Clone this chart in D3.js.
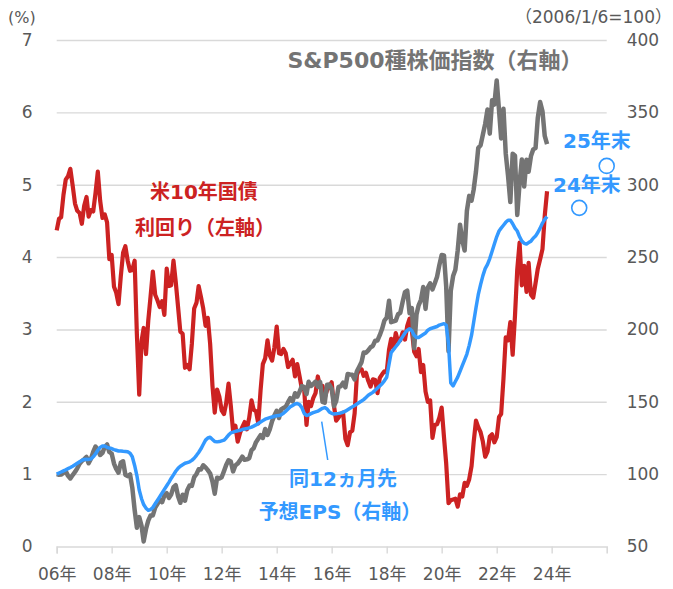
<!DOCTYPE html>
<html lang="ja">
<head>
<meta charset="utf-8">
<script src="https://cdn.jsdelivr.net/npm/d3@7"></script>
<style>
  html, body { margin: 0; padding: 0; background: #fff; }
  svg { display: block; }
  text { font-family: "DejaVu Sans", "Noto Sans CJK JP", sans-serif; }
</style>
</head>
<body>
<div id="chart"></div>
<script>
// Monthly points, Jan 2006 .. Nov 2023 (value at start of each month)
const startMonth = new Date(2006, 0, 1);
const endMonth = new Date(2023, 11, 1);

// US 10y treasury yield (%), left axis
const yieldUS10 = [
  4.37, 4.53, 4.55, 4.86, 5.07, 5.12, 5.22, 4.99, 4.74, 4.64, 4.61, 4.46,
  4.71, 4.83, 4.56, 4.65, 4.63, 4.89, 5.18, 4.78, 4.54, 4.59, 4.48, 3.97,
  4.03, 3.59, 3.51, 3.35, 3.73, 4.06, 4.15, 3.95, 3.81, 3.82, 3.95, 2.93,
  2.10, 2.84, 3.02, 2.66, 3.12, 3.46, 3.80, 3.48, 3.40, 3.31, 3.39, 3.20,
  3.84, 3.60, 3.61, 3.95, 3.66, 3.31, 2.97, 2.94, 2.47, 2.51, 2.45, 2.80,
  3.29, 3.37, 3.60, 3.45, 3.29, 3.05, 3.16, 2.80, 2.22, 1.85, 2.17, 2.07,
  1.88, 1.83, 1.98, 2.25, 1.95, 1.59, 1.67, 1.45, 1.57, 1.65, 1.72, 1.62,
  1.78, 2.02, 1.89, 1.87, 1.70, 2.16, 2.52, 2.60, 2.85, 2.64, 2.57, 2.75,
  3.04, 2.67, 2.66, 2.73, 2.67, 2.48, 2.53, 2.58, 2.35, 2.52, 2.35, 2.18,
  2.17, 1.68, 2.00, 1.94, 2.05, 2.12, 2.35, 2.20, 2.22, 2.06, 2.16, 2.21,
  2.27, 1.94, 1.74, 1.78, 1.83, 1.85, 1.49, 1.40, 1.58, 1.60, 1.84, 2.37,
  2.45, 2.45, 2.36, 2.40, 2.29, 2.21, 2.31, 2.30, 2.12, 2.33, 2.38, 2.42,
  2.41, 2.72, 2.87, 2.74, 2.95, 2.83, 2.85, 2.96, 2.86, 3.05, 3.15, 2.99,
  2.69, 2.63, 2.73, 2.41, 2.51, 2.14, 2.00, 2.02, 1.50, 1.68, 1.69, 1.78,
  1.92, 1.51, 1.15, 0.60, 0.64, 0.65, 0.66, 0.55, 0.72, 0.69, 0.88, 0.84,
  0.93, 1.11, 1.44, 1.74, 1.65, 1.58, 1.45, 1.24, 1.31, 1.52, 1.55, 1.44,
  1.51, 1.79, 1.83, 2.32, 2.89, 2.85, 3.10, 2.65, 3.19, 3.83, 4.20, 3.61,
  3.88, 3.52, 3.92, 3.48, 3.44, 3.64, 3.84, 3.97, 4.11, 4.57, 4.91
];

// S&P500 index (2006/1/6=100), right axis
const sp500 = [
  100.0, 99.6, 99.7, 100.8, 102.0, 98.8, 97.0, 99.4, 101.5, 104.0, 107.2, 109.0,
  110.4, 111.9, 107.5, 110.6, 115.3, 119.1, 117.0, 113.2, 114.7, 118.8, 120.5, 115.3,
  114.2, 107.3, 103.6, 101.0, 107.9, 108.9, 99.6, 98.6, 99.8, 90.7, 75.4, 63.0,
  70.3, 64.3, 53.5, 62.1, 67.9, 71.5, 71.5, 76.8, 79.5, 82.3, 80.6, 85.3,
  86.8, 83.6, 85.9, 91.0, 92.4, 84.7, 80.2, 85.8, 81.6, 88.8, 92.1, 91.9,
  97.9, 100.1, 103.3, 103.2, 106.1, 104.7, 102.8, 100.5, 94.9, 86.5, 97.5, 97.0,
  97.9, 102.1, 106.3, 109.6, 108.8, 101.9, 106.0, 107.3, 109.5, 112.1, 109.9, 110.2,
  111.0, 116.6, 117.9, 122.1, 124.4, 126.9, 125.0, 131.2, 127.1, 130.9, 136.7, 140.5,
  143.8, 138.8, 144.7, 145.7, 146.6, 149.7, 152.5, 150.3, 155.9, 153.5, 157.0, 160.9,
  160.2, 155.3, 163.8, 160.9, 162.3, 164.0, 160.5, 163.7, 150.0, 149.4, 161.8, 161.9,
  159.1, 147.0, 150.4, 160.3, 160.7, 163.2, 160.0, 169.2, 168.9, 168.7, 165.4, 171.1,
  174.2, 177.4, 184.0, 183.9, 185.5, 187.7, 188.6, 192.2, 192.4, 196.0, 200.4, 206.1,
  208.1, 219.8, 205.0, 205.5, 206.1, 210.5, 211.5, 219.1, 225.8, 226.8, 211.1, 214.8,
  187.0, 210.4, 216.7, 220.5, 229.3, 214.2, 228.9, 231.9, 227.7, 231.7, 236.4, 244.4,
  251.4, 251.1, 229.9, 185.0, 226.6, 236.9, 241.2, 254.6, 272.4, 261.7, 254.5, 281.9,
  292.3, 289.0, 296.6, 309.2, 325.4, 327.2, 334.5, 342.0, 352.0, 335.3, 358.4, 355.4,
  372.0, 351.4, 332.0, 352.5, 321.6, 306.0, 288.0, 321.4, 320.0, 279.1, 301.3, 317.5,
  298.8, 317.3, 309.0, 319.8, 324.4, 325.3, 346.3, 357.1, 350.8, 333.7, 328.0
];

// 12-month forward EPS (2006/1/6=100), right axis
const fwdEps = [
  100.0, 100.8, 101.5, 102.3, 103.0, 103.8, 104.6, 105.5, 106.5, 107.5, 108.5, 109.5,
  110.2, 110.3, 110.2, 110.5, 112.0, 114.0, 116.5, 118.5, 119.5, 119.5, 118.5, 118.0,
  117.7, 117.0, 116.5, 116.0, 116.0, 115.8, 115.7, 115.5, 114.5, 112.0, 106.0, 99.0,
  89.0, 83.0, 79.0, 76.5, 75.0, 75.5, 77.0, 79.5, 82.0, 84.5, 87.0, 89.5,
  92.0, 94.5, 97.0, 99.5, 102.0, 104.0, 105.5, 106.5, 107.5, 108.0, 108.5, 109.5,
  111.0, 113.0, 115.0, 117.5, 120.5, 123.5, 125.0, 125.5, 124.0, 122.5, 122.3, 122.5,
  123.0, 123.5, 125.0, 127.0, 128.5, 129.0, 129.5, 130.0, 130.3, 130.8, 131.2, 131.5,
  132.0, 132.5, 133.2, 134.0, 135.0, 136.0, 137.0, 138.0, 138.5, 139.0, 139.5, 140.0,
  140.3, 140.5, 141.0, 142.0, 143.5, 145.0, 146.5, 147.5, 148.5, 148.8, 148.0, 146.0,
  142.0, 140.5, 141.0, 141.8, 142.5, 143.0, 143.5, 144.5, 145.5, 146.0, 145.0, 143.0,
  142.0, 141.5, 141.8, 142.0, 142.3, 142.8, 143.5, 144.5, 145.5, 146.5, 147.5, 148.5,
  149.5, 150.5, 151.5, 153.0, 154.5, 155.5, 156.5, 158.0, 159.5, 161.0, 162.5, 164.5,
  167.0, 176.0, 184.0, 186.0, 188.0, 190.0, 192.5, 195.0, 197.5, 199.5, 200.5, 199.0,
  196.0, 194.5, 194.5, 195.5, 196.5, 197.5, 199.5, 200.5, 201.0, 201.5, 202.0, 203.0,
  203.5, 204.0, 203.0, 190.0, 163.0, 161.0, 164.0, 167.0, 171.0, 175.0, 179.0, 183.0,
  189.0, 196.0, 205.0, 215.0, 224.0, 231.0, 237.0, 242.0, 245.0, 249.0, 254.0, 259.0,
  264.0, 268.0, 270.0, 272.0, 274.0, 275.5, 275.5, 273.0, 270.0, 268.0, 264.0, 261.0,
  259.5, 259.0, 260.0, 261.0, 263.0, 264.5, 267.0, 270.0, 273.5, 276.0, 278.0
];

// EPS outlook points (year end)
const outlookLabels = ["24年末", "25年末"];
const outlookDates = [new Date(2025, 0, 1), new Date(2026, 0, 1)];
const outlookValues = [284, 313];

const tickYears = [2006, 2008, 2010, 2012, 2014, 2016, 2018, 2020, 2022, 2024];
const tickLabels = ["06年", "08年", "10年", "12年", "14年", "16年", "18年", "20年", "22年", "24年"];
const leftTicks = [0, 1, 2, 3, 4, 5, 6, 7];
const rightTicks = [50, 100, 150, 200, 250, 300, 350, 400];

const width = 673, height = 589;
const plot = { left: 56.7, right: 606.7, top: 40, bottom: 546.5 };

const colorRed = "#cc2222", colorGray = "#747474", colorBlue = "#3399ff";
const tickColor = "#595959", gridColor = "#d9d9d9";

const months = d3.timeMonth.range(startMonth, endMonth);

const x = d3.scaleTime()
  .domain([new Date(2006, 0, 1), new Date(2026, 0, 1)])
  .range([plot.left, plot.right]);
const yLeft = d3.scaleLinear().domain([0, 7]).range([plot.bottom, plot.top]);
const yRight = d3.scaleLinear().domain([50, 400]).range([plot.bottom, plot.top]);

const svg = d3.select("#chart").append("svg")
  .attr("width", width)
  .attr("height", height);

// gridlines + left labels
const gLeft = svg.append("g")
  .attr("transform", `translate(${plot.left},0)`)
  .call(d3.axisLeft(yLeft).tickValues(leftTicks)
    .tickSize(-(plot.right - plot.left)).tickPadding(24).tickFormat(d3.format("d")));
gLeft.select(".domain").remove();
gLeft.selectAll(".tick line")
  .attr("stroke", gridColor).attr("stroke-width", 1.4)
  .filter(d => d === 0).remove();
gLeft.selectAll(".tick text")
  .attr("fill", tickColor).attr("font-size", 17).attr("font-family", "DejaVu Sans");

// right labels
const gRight = svg.append("g")
  .attr("transform", `translate(${plot.right},0)`)
  .call(d3.axisRight(yRight).tickValues(rightTicks).tickSize(0).tickPadding(20));
gRight.select(".domain").remove();
gRight.selectAll(".tick text")
  .attr("fill", tickColor).attr("font-size", 17).attr("font-family", "DejaVu Sans");

// x axis
const gX = svg.append("g")
  .attr("transform", `translate(0,${plot.bottom})`)
  .call(d3.axisBottom(x)
    .tickValues(tickYears.map(yr => new Date(yr, 0, 1)))
    .tickFormat((d, i) => tickLabels[i])
    .tickSizeOuter(0).tickSize(7).tickPadding(14));
gX.select(".domain").attr("stroke", gridColor).attr("stroke-width", 1.6);
gX.selectAll(".tick line").attr("stroke", gridColor).attr("stroke-width", 1.4);
gX.selectAll(".tick text")
  .attr("fill", tickColor).attr("font-size", 17);

// unit labels
svg.append("text")
  .attr("x", 8).attr("y", 17)
  .attr("dominant-baseline", "central")
  .attr("font-size", 16).attr("fill", tickColor)
  .text("(%)");
svg.append("text")
  .attr("x", 672).attr("y", 17)
  .attr("text-anchor", "end")
  .attr("dominant-baseline", "central")
  .attr("font-size", 17).attr("fill", tickColor)
  .text("（2006/1/6=100）");

// series lines: red on primary axis, then gray and blue on secondary
const lineLeft = d3.line().x((d, i) => x(months[i])).y(d => yLeft(d));
const lineRight = d3.line().x((d, i) => x(months[i])).y(d => yRight(d));

svg.append("path").datum(yieldUS10)
  .attr("d", lineLeft).attr("fill", "none")
  .attr("stroke", colorRed).attr("stroke-width", 4.2)
  .attr("stroke-linejoin", "round");
svg.append("path").datum(sp500)
  .attr("d", lineRight).attr("fill", "none")
  .attr("stroke", colorGray).attr("stroke-width", 4.5)
  .attr("stroke-linejoin", "round");
svg.append("path").datum(fwdEps)
  .attr("d", lineRight).attr("fill", "none")
  .attr("stroke", colorBlue).attr("stroke-width", 3.5)
  .attr("stroke-linejoin", "round");

// outlook markers
svg.selectAll("circle.outlook")
  .data(outlookValues)
  .enter().append("circle")
  .attr("class", "outlook")
  .attr("cx", (d, i) => x(outlookDates[i]))
  .attr("cy", d => yRight(d))
  .attr("r", 7.5)
  .attr("fill", "#fff")
  .attr("stroke", colorBlue)
  .attr("stroke-width", 1.6);

// annotations
function note(txt, px, py, color, size, anchor) {
  svg.append("text")
    .attr("x", px).attr("y", py)
    .attr("text-anchor", anchor || "start")
    .attr("dominant-baseline", "central")
    .attr("font-size", size).attr("font-weight", "bold")
    .attr("fill", color)
    .text(txt);
}
note("S&P500種株価指数（右軸）", 435, 60, colorGray, 22, "middle");
note("米10年国債", 150, 192, colorRed, 20);
note("利回り（左軸）", 135, 228, colorRed, 20);
note("同12ヵ月先", 343, 479, colorBlue, 20, "middle");
note("予想EPS（右軸）", 340, 512, colorBlue, 20, "middle");
note(outlookLabels[1], 563, 141, colorBlue, 20);
note(outlookLabels[0], 553, 185, colorBlue, 20);

// leader line to the EPS line
svg.append("line")
  .attr("x1", 321.7).attr("y1", 421.7)
  .attr("x2", 327.7).attr("y2", 460)
  .attr("stroke", colorBlue).attr("stroke-width", 1.5);
</script>
</body>
</html>
